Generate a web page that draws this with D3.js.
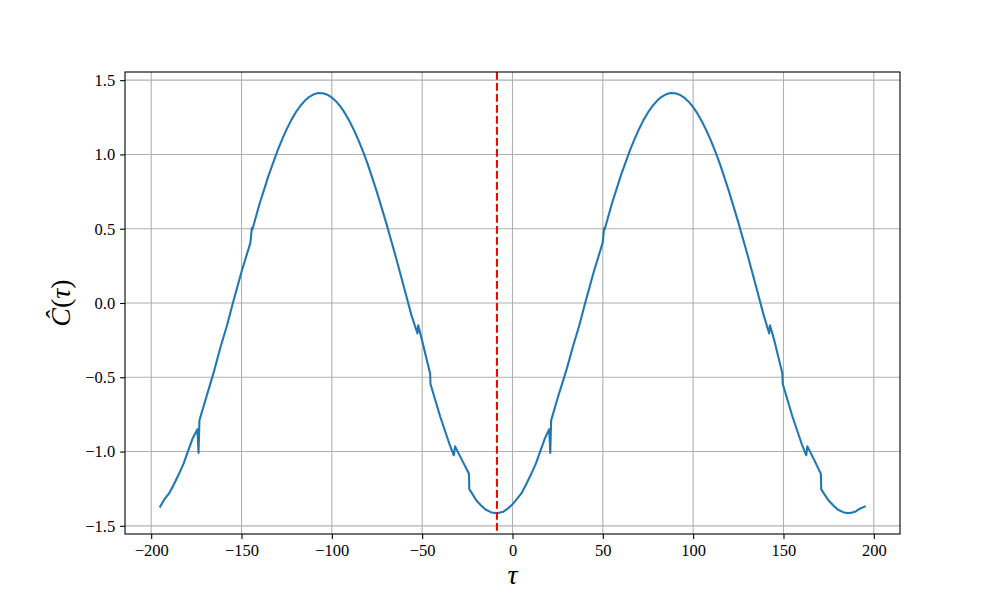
<!DOCTYPE html>
<html>
<head>
<meta charset="utf-8">
<script src="https://cdn.jsdelivr.net/npm/d3@7"></script>
<style>
  html, body { margin: 0; padding: 0; background: #fff; }
  svg { display: block; }
  .tick text { font-family: "Liberation Serif", "DejaVu Serif", serif; font-size: 16.5px; fill: #000; }
</style>
</head>
<body>
<svg id="chart" width="1000" height="600"></svg>
<script>
// ---- data ----
const tau = [
  -195, -192.5, -190, -187, -185, -182, -180, -177, -174.4, -173.8, -173.3,
  -170, -165, -161.7, -158, -155, -150, -145.1, -144.6, -144.3, -144.0,
  -140, -135, -130, -127.5, -125, -122.5, -120, -117.5, -115, -112.5, -110, -107.5, -105,
  -102.5, -100, -97.5, -95, -92.5, -90, -87.5, -85, -82.5, -80,
  -75, -70, -65, -60, -56, -52.6, -52.2, -50, -45.6, -45.4, -40, -35,
  -32.5, -31.8, -28, -24.1, -23.9, -23.0, -20, -17.5, -15, -12, -10, -8.6, -7, -5, -2.5,
  0, 2.5, 5, 8, 10, 13, 15, 18, 20.3, 20.9, 21.4,
  25, 30, 33.3, 37, 40, 45, 49.9, 50.4, 50.7, 51.0,
  55, 60, 65, 67.5, 70, 72.5, 75, 77.5, 80, 82.5, 85, 87.5, 90,
  92.5, 95, 97.5, 100, 102.5, 105, 107.5, 110, 112.5, 115,
  120, 125, 130, 135, 139, 142.1, 142.5, 145, 149.4, 149.6, 155, 160,
  162.6, 163.2, 167, 170.7, 170.9, 171.7, 175, 177.5, 180, 183, 185, 186.2, 188, 190, 192.5, 195
];
const C = [
  -1.37, -1.318, -1.28, -1.21, -1.16, -1.08, -1.01, -0.91, -0.85, -1.01, -0.79,
  -0.655, -0.45, -0.30, -0.15, -0.01, 0.21, 0.405, 0.465, 0.505, 0.495,
  0.668, 0.859, 1.027, 1.101, 1.170, 1.231, 1.283, 1.326, 1.361, 1.388, 1.405, 1.413, 1.412,
  1.402, 1.383, 1.355, 1.318, 1.273, 1.218, 1.157, 1.088, 1.012, 0.930,
  0.745, 0.543, 0.328, 0.102, -0.08, -0.205, -0.15, -0.255, -0.475, -0.545, -0.766, -0.946,
  -1.025, -0.965, -1.056, -1.15, -1.255, -1.27, -1.33, -1.361, -1.39, -1.408, -1.413, -1.414, -1.411, -1.405, -1.383,
  -1.355, -1.318, -1.28, -1.21, -1.16, -1.08, -1.01, -0.91, -0.85, -1.01, -0.79,
  -0.64, -0.445, -0.30, -0.15, -0.01, 0.21, 0.405, 0.465, 0.505, 0.495,
  0.668, 0.859, 1.027, 1.101, 1.170, 1.231, 1.283, 1.326, 1.361, 1.388, 1.405, 1.413, 1.412,
  1.402, 1.383, 1.355, 1.318, 1.273, 1.218, 1.157, 1.088, 1.012, 0.930,
  0.745, 0.543, 0.328, 0.102, -0.08, -0.205, -0.15, -0.255, -0.475, -0.545, -0.766, -0.946,
  -1.025, -0.965, -1.056, -1.15, -1.255, -1.27, -1.33, -1.361, -1.39, -1.408, -1.413, -1.414, -1.411, -1.403, -1.383, -1.37
];
const markerTau = -8.6;
const xTicks = [-200, -150, -100, -50, 0, 50, 100, 150, 200];
const yTicks = [-1.5, -1.0, -0.5, 0.0, 0.5, 1.0, 1.5];

// ---- layout ----
const L = 125, R = 900, T = 72, B = 534;
const svg = d3.select("#chart");
const x = d3.scaleLinear().domain([-214.5, 214.5]).range([L, R]);
const y = d3.scaleLinear().domain([-1.555, 1.555]).range([B, T]);
const minus = s => s.replace("-", "\u2212");

// grid
const grid = svg.append("g");
grid.selectAll("line.gx").data(xTicks).enter().append("line")
  .attr("x1", d => x(d)).attr("x2", d => x(d)).attr("y1", T).attr("y2", B)
  .attr("stroke", "#b0b0b0").attr("stroke-width", 1.1);
grid.selectAll("line.gy").data(yTicks).enter().append("line")
  .attr("y1", d => y(d)).attr("y2", d => y(d)).attr("x1", L).attr("x2", R)
  .attr("stroke", "#b0b0b0").attr("stroke-width", 1.1);

// curve
const pts = tau.map((t, i) => [t, C[i]]);
svg.append("path").datum(pts)
  .attr("fill", "none").attr("stroke", "#1f77b4").attr("stroke-width", 2.08)
  .attr("stroke-linejoin", "round").attr("stroke-linecap", "square")
  .attr("d", d3.line().x(d => x(d[0])).y(d => y(d[1])));

// red dashed marker
svg.append("line")
  .attr("x1", x(markerTau)).attr("x2", x(markerTau)).attr("y1", T).attr("y2", B)
  .attr("stroke", "red").attr("stroke-width", 2.08).attr("stroke-dasharray", "7.7,3.3");

// axes
const xAxis = d3.axisBottom(x).tickValues(xTicks).tickSize(4.9).tickPadding(4.9)
  .tickFormat(d => minus(String(d)));
const gx = svg.append("g").attr("transform", `translate(0,${B})`).call(xAxis);
const yAxis = d3.axisLeft(y).tickValues(yTicks).tickSize(4.9).tickPadding(4.9)
  .tickFormat(d => minus(d3.format(".1f")(d)));
const gy = svg.append("g").attr("transform", `translate(${L},0)`).call(yAxis);
[gx, gy].forEach(g => {
  g.select(".domain").remove();
  g.selectAll(".tick line").attr("stroke", "#000").attr("stroke-width", 1.1);
});
gx.selectAll(".tick text").attr("dy", "0.75em");

// frame
svg.append("rect").attr("x", L).attr("y", T).attr("width", R - L).attr("height", B - T)
  .attr("fill", "none").attr("stroke", "#000").attr("stroke-width", 1.1);

// labels
svg.append("text").attr("x", (L + R) / 2).attr("y", 584)
  .attr("text-anchor", "middle")
  .style("font-family", "'Liberation Serif', serif").style("font-style", "italic").style("font-size", "28px")
  .text("τ");
svg.append("text").attr("transform", `translate(70,${(T + B) / 2}) rotate(-90)`)
  .attr("text-anchor", "middle")
  .style("font-family", "'Liberation Serif', serif").style("font-size", "28px")
  .html('<tspan font-style="italic">Ĉ</tspan>(<tspan font-style="italic">τ</tspan>)');
</script>
</body>
</html>
